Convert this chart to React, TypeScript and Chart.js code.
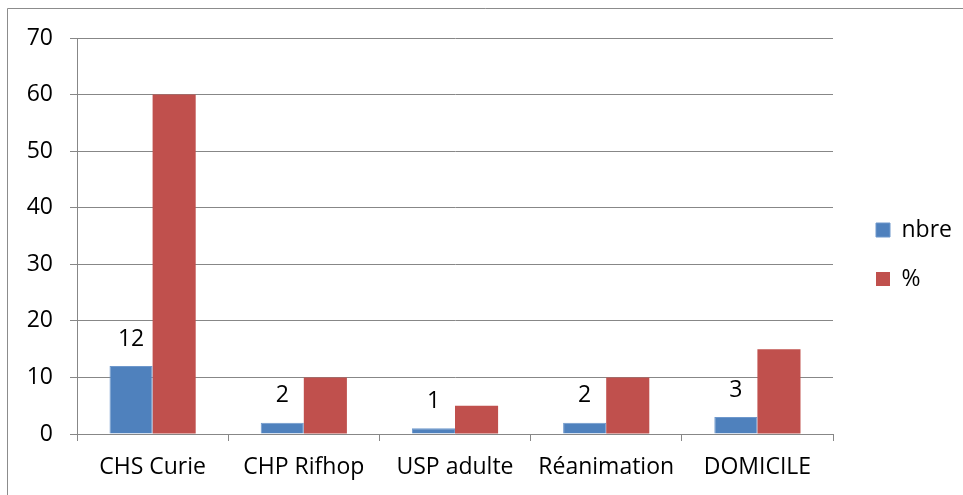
import React, { useEffect, useRef } from "react";
import { Chart, registerables } from "chart.js";

Chart.register(...registerables);

const categories = ["CHS Curie", "CHP Rifhop", "USP adulte", "Réanimation", "DOMICILE"];
const nbreValues = [12, 2, 1, 2, 3];
const pctValues = [60, 10, 5, 10, 15];
const seriesNames = ["nbre", "%"];
const yMax = 70;
const yStep = 10;

const FONT = "'Open Sans', Lato, sans-serif";
const FS = 23;
const GRID = "#878787";

const framePlugin = {
  id: "frame",
  beforeDraw(chart: any) {
    const { ctx, width, height } = chart;
    ctx.save();
    ctx.fillStyle = "#ffffff";
    ctx.fillRect(0, 0, width, height);
    ctx.strokeStyle = "#8c8c8c";
    ctx.lineWidth = 1;
    ctx.beginPath();
    ctx.moveTo(7.5, height);
    ctx.lineTo(7.5, 8.5);
    ctx.lineTo(width, 8.5);
    ctx.stroke();
    ctx.restore();
  },
};

const legendShift = {
  id: "legendShift",
  afterLayout(chart: any) {
    const lg = chart.legend;
    if (!lg) return;
    const dx = 876 - (lg.left + 26);
    const dy = -12;
    lg.left += dx;
    lg.right += dx;
    lg.top += dy;
    lg.bottom += dy;
  },
};

const labelPlugin = {
  id: "barLabels",
  afterDatasetsDraw(chart: any) {
    const { ctx } = chart;
    const meta = chart.getDatasetMeta(0);
    const ds = chart.data.datasets[0];
    ctx.save();
    ctx.font = `${FS}px ${FONT}`;
    ctx.fillStyle = "#000000";
    ctx.textAlign = "center";
    ctx.textBaseline = "middle";
    meta.data.forEach((bar: any, i: number) => {
      ctx.fillText(String(ds.data[i]), bar.x, bar.y - 27);
    });
    ctx.restore();
  },
};

export default function App() {
  const ref = useRef<HTMLCanvasElement | null>(null);
  useEffect(() => {
    if (!ref.current) return;
    const chart = new Chart(ref.current, {
      type: "bar",
      data: {
        labels: categories,
        datasets: [
          {
            label: seriesNames[0],
            data: nbreValues,
            backgroundColor: "#4F81BD",
            borderColor: "#6E98CC",
            borderWidth: 1,
            categoryPercentage: 0.57,
            barPercentage: 1,
          },
          {
            label: seriesNames[1],
            data: pctValues,
            backgroundColor: "#C0504D",
            borderColor: "#C0504D",
            borderWidth: 0,
            categoryPercentage: 0.57,
            barPercentage: 1,
          },
        ],
      },
      options: {
        animation: false,
        responsive: false,
        maintainAspectRatio: false,
        layout: { padding: { left: 0, right: 18, top: 38, bottom: 0 } },
        plugins: {
          legend: {
            position: "right",
            labels: {
              boxWidth: 14,
              boxHeight: 14,
              padding: 26,
              color: "#000000",
              font: { family: FONT, size: FS },
            },
          },
          tooltip: { enabled: false },
        },
        scales: {
          x: {
            grid: {
              drawOnChartArea: false,
              drawTicks: true,
              tickLength: 7,
              color: GRID,
              offset: true,
            },
            border: { color: GRID, width: 1 },
            ticks: {
              color: "#000000",
              padding: 13,
              font: { family: FONT, size: FS },
              maxRotation: 0,
            },
            afterFit(scale: any) {
              scale.height = 61;
            },
          },
          y: {
            min: 0,
            max: yMax,
            ticks: {
              stepSize: yStep,
              color: "#000000",
              padding: 17,
              font: { family: FONT, size: FS },
            },
            grid: { color: GRID, tickLength: 7 },
            border: { color: GRID, width: 1 },
            afterFit(scale: any) {
              scale.width = 77;
            },
          },
        },
      },
      plugins: [framePlugin, legendShift, labelPlugin],
    });
    return () => chart.destroy();
  }, []);
  return (
    <div style={{ position: "fixed", left: 0, top: 0, width: 963, height: 495 }}>
      <canvas ref={ref} width={963} height={495} style={{ display: "block" }} />
    </div>
  );
}
